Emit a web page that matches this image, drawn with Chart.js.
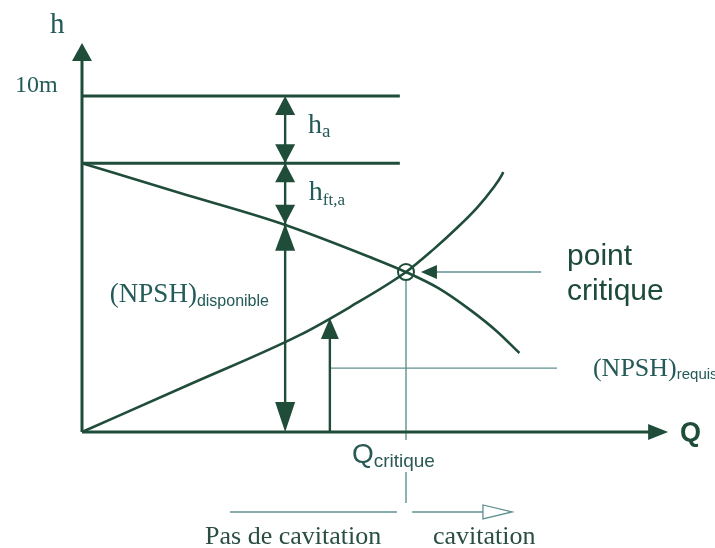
<!DOCTYPE html>
<html>
<head>
<meta charset="utf-8">
<script src="https://cdn.jsdelivr.net/npm/chart.js@4.4.1/dist/chart.umd.min.js"></script>
<style>
  html, body { margin: 0; padding: 0; background: #fff; }
  #wrap { width: 715px; height: 548px; }
</style>
</head>
<body>
<div id="wrap"><canvas id="npshChart" width="715" height="548"></canvas></div>
<script>
// Q in arbitrary units (Q critique = 10), h in metres
const qDisp = [0, 3.0, 6.1, 8.9, 10.0, 11.0, 12.0, 12.8, 13.5];
const hDisp = [8.0, 7.12, 6.22, 5.2, 4.76, 4.28, 3.62, 3.0, 2.35];
const qReq = [0, 3.33, 6.73, 8.27, 10.0, 10.83, 11.57, 12.19, 12.69, 12.96, 13.0];
const hReq = [0, 1.42, 2.89, 3.72, 4.76, 5.42, 6.07, 6.67, 7.26, 7.65, 7.74];

const hAtm = 10;       // 10m line
const hSurface = 8.0;  // second horizontal line
const hFtEnd = 6.2;    // where h_ft,a ends on the disponible curve
const hReqMark = 1.9;  // (NPSH)requis level line
const hReqArrow = 3.39;
const qArrow = 6.27;   // x of the big double arrows
const qReqArrow = 7.65;
const qCrit = 10;
const hCrit = 4.76;

const DARK = '#1f4d3a';
const THIN = '#5f9090';
const TEXT = '#245a58';

const pts = (qs, hs) => qs.map((q, i) => ({ x: q, y: hs[i] }));
const seg = (a, b) => [a, b];

// =========================================================================
// Arrows, circle and labels, drawn through the chart scales
// =========================================================================
const decorPlugin = {
  id: 'decor',
  afterDatasetsDraw(chart) {
    const { ctx, scales: { x, y } } = chart;
    const px = v => x.getPixelForValue(v);
    const py = v => y.getPixelForValue(v);

    function head(q, h, dir, len, half, hollow) {
      const tx = px(q), ty = py(h);
      ctx.beginPath();
      if (dir === 'up') { ctx.moveTo(tx, ty); ctx.lineTo(tx - half, ty + len); ctx.lineTo(tx + half, ty + len); }
      if (dir === 'down') { ctx.moveTo(tx, ty); ctx.lineTo(tx - half, ty - len); ctx.lineTo(tx + half, ty - len); }
      if (dir === 'left') { ctx.moveTo(tx, ty); ctx.lineTo(tx + len, ty - half); ctx.lineTo(tx + len, ty + half); }
      if (dir === 'right') { ctx.moveTo(tx, ty); ctx.lineTo(tx - len, ty - half); ctx.lineTo(tx - len, ty + half); }
      ctx.closePath();
      if (hollow) {
        ctx.fillStyle = '#fff';
        ctx.fill();
        ctx.strokeStyle = THIN;
        ctx.lineWidth = 1.3;
        ctx.stroke();
      } else {
        ctx.fillStyle = DARK;
        ctx.fill();
      }
    }

    function sub(main, small, q, h, mainFont, subFont, drop, color) {
      ctx.fillStyle = color || TEXT;
      ctx.textBaseline = 'alphabetic';
      ctx.textAlign = 'left';
      ctx.font = mainFont;
      ctx.fillText(main, px(q), py(h));
      const w = ctx.measureText(main).width;
      if (small) {
        ctx.font = subFont;
        ctx.fillText(small, px(q) + w, py(h) + drop);
      }
    }

    ctx.save();

    // axis arrow heads
    head(0, 11.58, 'up', 18, 10);
    head(18.09, 0, 'right', 20, 8);

    // h_a
    head(qArrow, hAtm, 'up', 19, 10);
    head(qArrow, hSurface, 'down', 19, 10);
    // h_ft,a
    head(qArrow, hSurface, 'up', 19, 10);
    head(qArrow, hFtEnd, 'down', 19, 10);
    // (NPSH)disponible
    head(qArrow, hFtEnd, 'up', 27, 10);
    head(qArrow, 0, 'down', 30, 10);
    // (NPSH)requis arrow
    head(qReqArrow, hReqArrow, 'up', 21, 9);
    // point critique arrow
    head(10.46, hCrit, 'left', 16, 7);
    // cavitation arrow (hollow)
    head(13.27, -2.38, 'right', 29, 7, true);

    // critical point circle
    ctx.beginPath();
    ctx.arc(px(qCrit), py(hCrit), 8, 0, Math.PI * 2);
    ctx.strokeStyle = DARK;
    ctx.lineWidth = 2;
    ctx.stroke();

    const serif = s => s + 'px "Liberation Serif", "Times New Roman", serif';
    const sans = s => s + 'px "Liberation Sans", Arial, sans-serif';

    sub('h', null, -0.99, 11.875, serif(29));
    sub('10m', null, -2.07, 10.12, serif(24));
    sub('h', 'a', 6.975, 8.9, serif(28), serif(19), 4);
    sub('h', 'ft,a', 7.0, 6.9, serif(28), serif(17), 5);
    sub('(NPSH)', 'disponible', 0.86, 3.87, serif(27), sans(16), 4);
    sub('(NPSH)', 'requis', 15.77, 1.67, serif(26), sans(15), 3);
    sub('point', null, 14.97, 4.97, sans(30), null, 0, '#1d4a3c');
    sub('critique', null, 14.97, 3.93, sans(30), null, 0, '#1d4a3c');
    sub('Q', null, 18.46, -0.27, 'bold ' + sans(27), null, 0, DARK);
    sub('Q', 'critique', 8.33, -0.92, sans(28), sans(19), 4, '#2a5a56');
    sub('Pas de cavitation', null, 3.8, -3.33, serif(26), null, 0, '#2a4e44');
    sub('cavitation', null, 10.83, -3.33, serif(26), null, 0, '#2a4e44');

    ctx.restore();
  }
};

const thick = (data, w) => ({
  data, borderColor: DARK, borderWidth: w || 2.6, pointRadius: 0,
  showLine: true, fill: false, tension: 0
});
const thin = data => ({
  data, borderColor: THIN, borderWidth: 1.4, pointRadius: 0,
  showLine: true, fill: false, tension: 0, spanGaps: false
});

new Chart(document.getElementById('npshChart'), {
  type: 'scatter',
  data: {
    datasets: [
      // axes
      thick(seg({ x: 0, y: 0 }, { x: 0, y: 11.2 }), 3),
      thick(seg({ x: 0, y: 0 }, { x: 17.6, y: 0 }), 3),
      // horizontal reference lines
      thick(seg({ x: 0, y: hAtm }, { x: 9.81, y: hAtm }), 3),
      thick(seg({ x: 0, y: hSurface }, { x: 9.81, y: hSurface }), 3),
      // arrow shafts
      thick(seg({ x: qArrow, y: 0.3 }, { x: qArrow, y: hAtm - 0.2 }), 2.4),
      thick(seg({ x: qReqArrow, y: 0 }, { x: qReqArrow, y: hReqArrow - 0.3 }), 2.4),
      // curves
      Object.assign(thick(pts(qDisp, hDisp), 2.6), { cubicInterpolationMode: 'monotone' }),
      Object.assign(thick(pts(qReq, hReq), 2.6), { cubicInterpolationMode: 'monotone' }),
      // thin helper lines
      thin(seg({ x: qReqArrow, y: hReqMark }, { x: 14.66, y: hReqMark })),
      thin([{ x: qCrit, y: hCrit - 0.22 }, { x: qCrit, y: -0.24 }, { x: qCrit, y: null },
            { x: qCrit, y: -1.19 }, { x: qCrit, y: -2.11 }]),
      thin(seg({ x: 10.9, y: hCrit }, { x: 14.17, y: hCrit })),
      thin(seg({ x: 4.57, y: -2.38 }, { x: 9.72, y: -2.38 })),
      thin(seg({ x: 10.19, y: -2.38 }, { x: 12.4, y: -2.38 }))
    ]
  },
  options: {
    responsive: false,
    animation: false,
    devicePixelRatio: 1,
    layout: { padding: 0 },
    scales: {
      x: { type: 'linear', display: false, min: -2.531, max: 19.537 },
      y: { type: 'linear', display: false, min: -3.452, max: 12.857 }
    },
    plugins: {
      legend: { display: false },
      tooltip: { enabled: false }
    }
  },
  plugins: [decorPlugin]
});
</script>
</body>
</html>
